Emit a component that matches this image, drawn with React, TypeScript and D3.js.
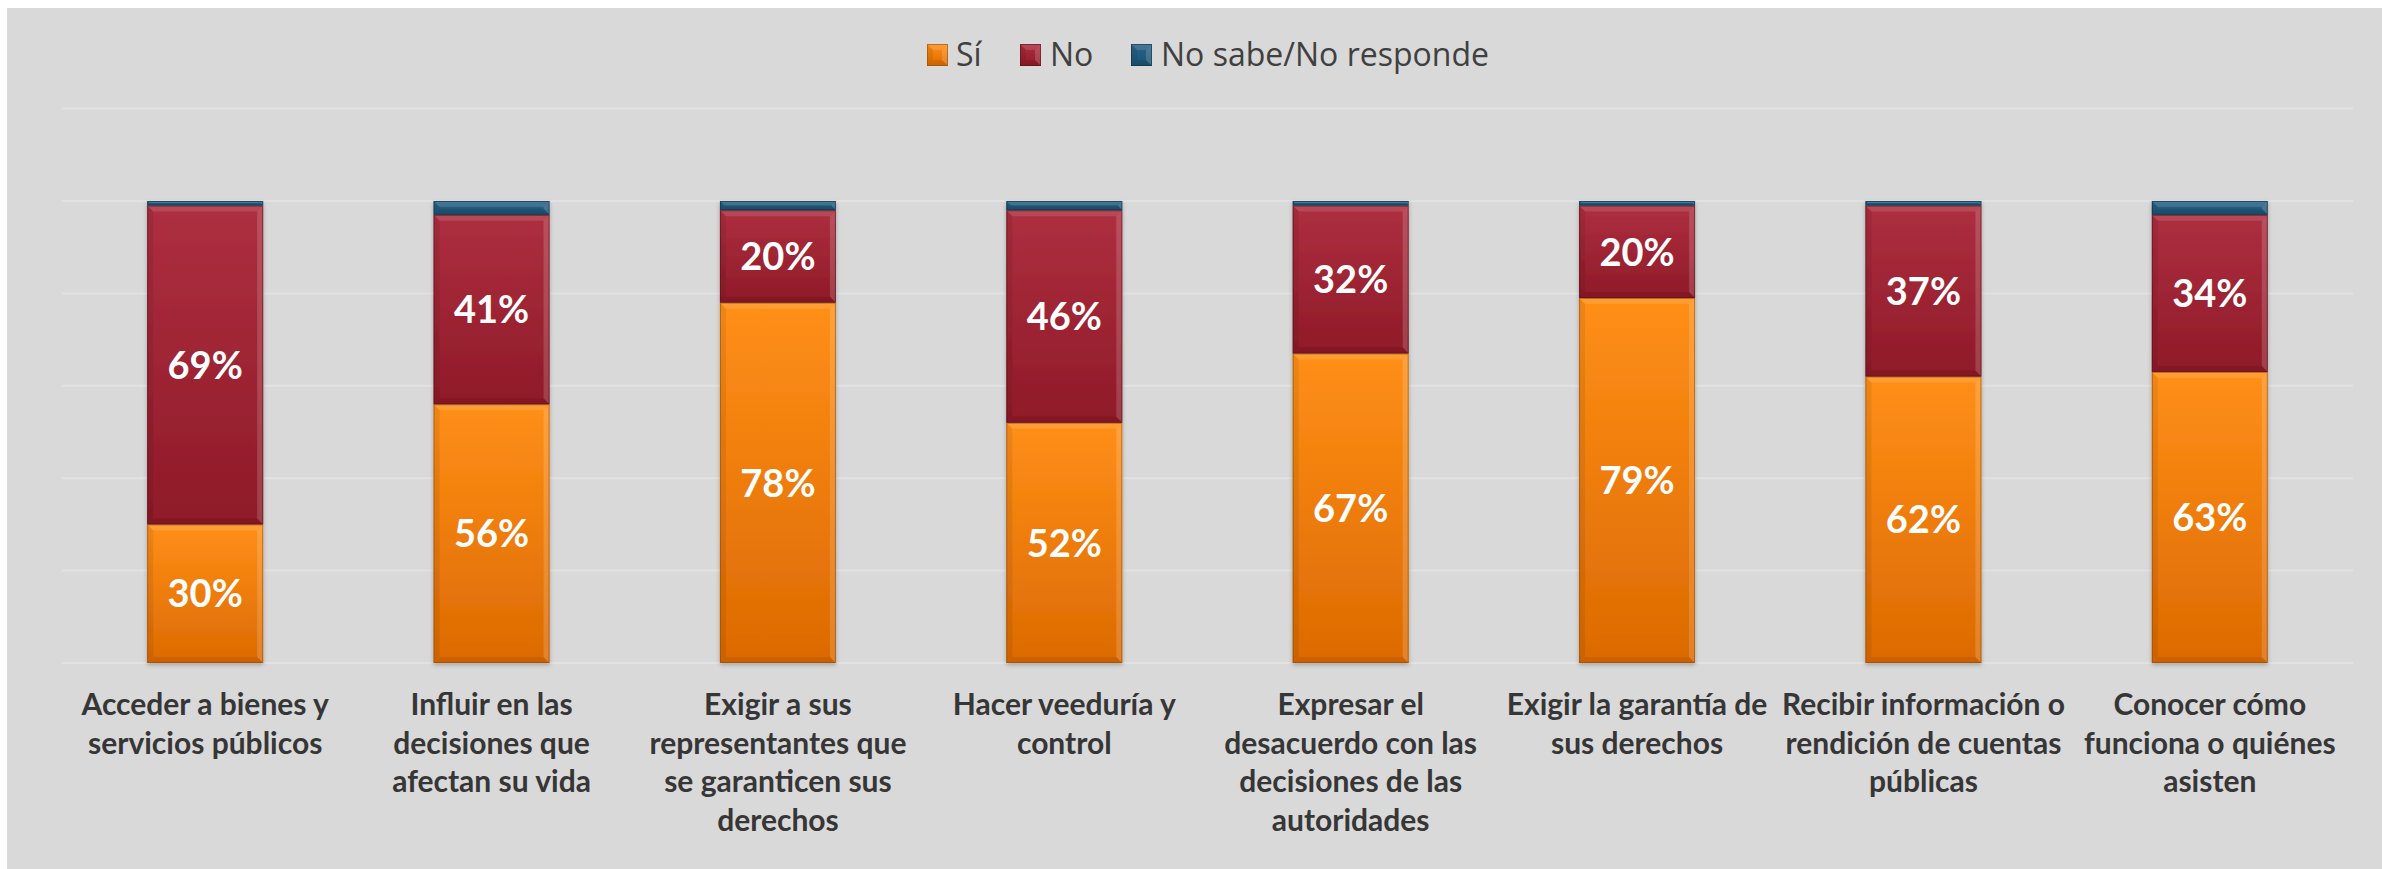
import React, { useLayoutEffect } from "react";
import * as d3 from "d3";

const categories = [
  "Acceder a bienes y servicios públicos",
  "Influir en las decisiones que afectan su vida",
  "Exigir a sus representantes que se garanticen sus derechos",
  "Hacer veeduría y control",
  "Expresar el desacuerdo con las decisiones de las autoridades",
  "Exigir la garantía de sus derechos",
  "Recibir información o rendición de cuentas públicas",
  "Conocer cómo funciona o quiénes asisten",
];
const categoryLines = [
  ["Acceder a bienes y", "servicios públicos"],
  ["Influir en las", "decisiones que", "afectan su vida"],
  ["Exigir a sus", "representantes que", "se garanticen sus", "derechos"],
  ["Hacer veeduría y", "control"],
  ["Expresar el", "desacuerdo con las", "decisiones de las", "autoridades"],
  ["Exigir la garantía de", "sus derechos"],
  ["Recibir información o", "rendición de cuentas", "públicas"],
  ["Conocer cómo", "funciona o quiénes", "asisten"],
];
const seriesNames = ["Sí", "No", "No sabe/No responde"];
const siValues = [30, 56, 78, 52, 67, 79, 62, 63];
const noValues = [69, 41, 20, 46, 32, 20, 37, 34];
const nsnrValues = [1, 3, 2, 2, 1, 1, 1, 3];
const gridTicks = [0, 20, 40, 60, 80, 100, 120];

const W = 2382;
const H = 869;

const palette = [
  { id: "gSi", top: "#ff8f17", bottom: "#dc6a02", edge: "#8a4a08" },
  { id: "gNo", top: "#ad2f40", bottom: "#8f1a28", edge: "#4e1018" },
  { id: "gNs", top: "#2a6488", bottom: "#1b5272", edge: "#0c2c40" },
];

function Bevel({ x, y, w, h, c }: { x: number; y: number; w: number; h: number; c: (typeof palette)[number] }) {
  const b = Math.max(0, Math.min(6, h / 2, w / 2));
  return (
    <g>
      <rect x={x} y={y} width={w} height={h} fill={`url(#${c.id})`} />
      {b > 0 && (
        <>
          <polygon points={`${x},${y} ${x + w},${y} ${x + w - b},${y + b} ${x + b},${y + b}`} fill="#ffffff" opacity={0.12} />
          <polygon points={`${x + w},${y} ${x + w},${y + h} ${x + w - b},${y + h - b} ${x + w - b},${y + b}`} fill="#ffffff" opacity={0.16} />
          <polygon points={`${x},${y + h} ${x + w},${y + h} ${x + w - b},${y + h - b} ${x + b},${y + h - b}`} fill="#000000" opacity={0.08} />
          <polygon points={`${x},${y} ${x + b},${y + b} ${x + b},${y + h - b} ${x},${y + h}`} fill="#000000" opacity={0.07} />
        </>
      )}
      <rect x={x + 0.5} y={y + 0.5} width={w - 1} height={Math.max(0, h - 1)} fill="none" stroke={c.edge} strokeOpacity={0.55} strokeWidth={1} />
    </g>
  );
}

export default function App() {
  useLayoutEffect(() => {
    document.documentElement.style.overflow = "hidden";
    document.body.style.margin = "0";
    document.body.style.overflow = "hidden";
  }, []);

  const x = d3
    .scaleBand<string>()
    .domain(categories)
    .range([62, 2353])
    .paddingInner(0.595)
    .paddingOuter(0.2975);
  const y = d3.scaleLinear().domain([0, 120]).range([663, 108.6]);

  const rows = categories.map((c, i) => ({ cat: c, si: siValues[i], no: noValues[i], ns: nsnrValues[i] }));
  const stack = d3.stack<any>().keys(["si", "no", "ns"]);
  const layers = stack(rows);

  const bw = x.bandwidth();

  const legendItems = [
    { name: seriesNames[0], sx: 927, tx: 956 },
    { name: seriesNames[1], sx: 1020, tx: 1050 },
    { name: seriesNames[2], sx: 1131, tx: 1161 },
  ];

  return (
    <svg width={W} height={H} style={{ display: "block", position: "absolute", left: 0, top: 0 }}>
      <defs>
        {palette.map((p) => (
          <linearGradient key={p.id} id={p.id} x1="0" y1="0" x2="0" y2="1">
            <stop offset="0" stopColor={p.top} />
            <stop offset="1" stopColor={p.bottom} />
          </linearGradient>
        ))}
        <filter id="shadow" x="-10%" y="-10%" width="120%" height="120%">
          <feDropShadow dx="0" dy="2" stdDeviation="2" floodColor="#000" floodOpacity="0.25" />
        </filter>
      </defs>
      <rect x={7} y={8} width={W - 7} height={H - 8} fill="#d9d9d9" />

      {gridTicks.map((t) => (
        <line key={t} x1={62} x2={2353} y1={y(t)} y2={y(t)} stroke="#e2e2e2" strokeWidth={2} />
      ))}

      {rows.map((r, i) => {
        const x0 = x(r.cat)!;
        return (
          <g key={r.cat} filter="url(#shadow)">
            {layers.map((layer, li) => {
              const d = layer[i];
              const yTop = y(d[1]);
              const yBot = y(d[0]);
              return <Bevel key={li} x={x0} y={yTop} w={bw} h={yBot - yTop} c={palette[li]} />;
            })}
          </g>
        );
      })}

      {rows.map((r, i) => {
        const cx = x(r.cat)! + bw / 2;
        return layers.slice(0, 2).map((layer, li) => {
          const d = layer[i];
          const v = li === 0 ? r.si : r.no;
          return (
            <text
              key={`${i}-${li}`}
              x={cx}
              y={y((d[0] + d[1]) / 2)}
              dy="0.36em"
              textAnchor="middle"
              fill="#ffffff"
              fontFamily="Lato, 'Open Sans', sans-serif"
              fontWeight={700}
              fontSize={38}
            >
              {`${v}%`}
            </text>
          );
        });
      })}

      {categoryLines.map((lines, i) => {
        const cx = x(categories[i])! + bw / 2;
        return (
          <text
            key={i}
            textAnchor="middle"
            fill="#363636"
            fontFamily="Lato, 'Open Sans', sans-serif"
            fontWeight={700}
            fontSize={30}
          >
            {lines.map((ln, k) => (
              <tspan key={k} x={cx} y={715 + k * 38.5}>
                {ln}
              </tspan>
            ))}
          </text>
        );
      })}

      {legendItems.map((it, i) => (
        <g key={it.name}>
          <Bevel x={it.sx} y={44} w={21} h={22} c={palette[i]} />
          <text x={it.tx} y={66} fill="#404040" fontFamily="'Open Sans', sans-serif" fontSize={32}>
            {it.name}
          </text>
        </g>
      ))}
    </svg>
  );
}
